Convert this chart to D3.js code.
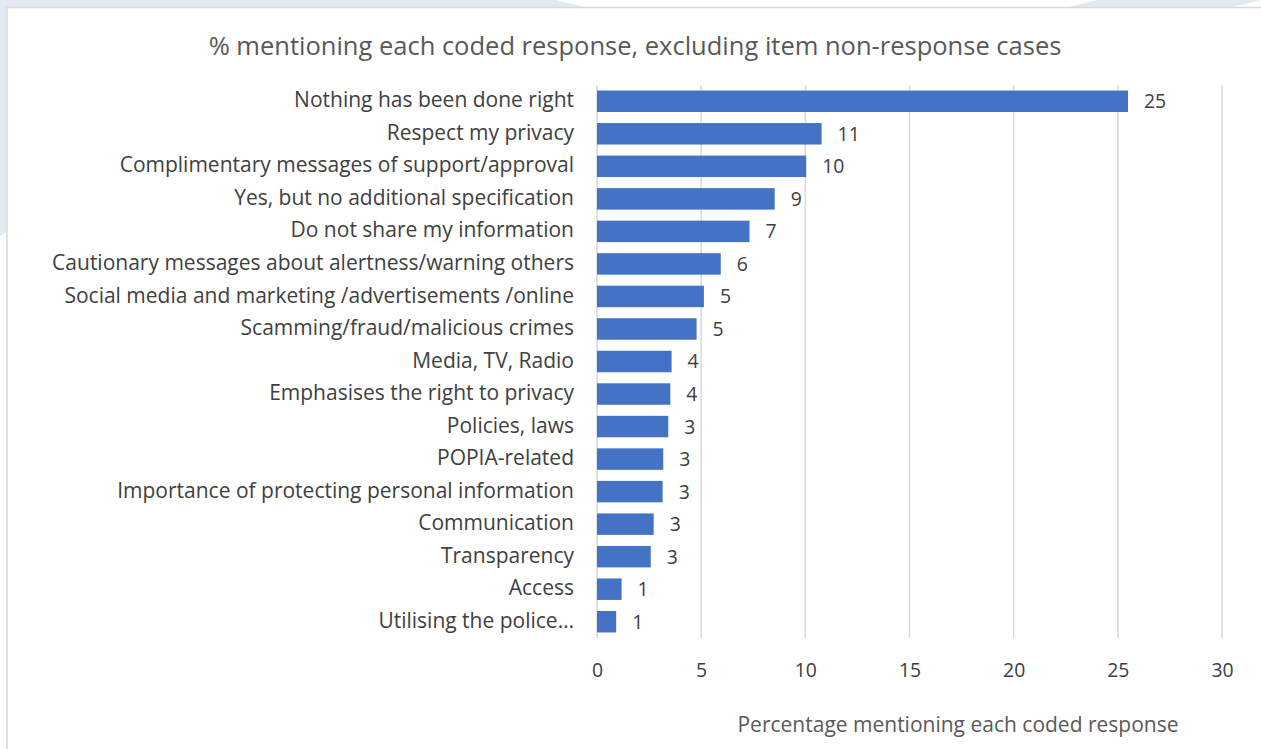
<!DOCTYPE html>
<html>
<head>
<meta charset="utf-8">
<script src="https://cdn.jsdelivr.net/npm/d3@7/dist/d3.min.js"></script>
<style>
  html, body { margin: 0; padding: 0; background: #ffffff; }
  svg { display: block; }
  text { font-family: "Open Sans", Lato, sans-serif; }
</style>
</head>
<body>
<svg id="chart" width="1261" height="749"></svg>
<script>
// Coded responses, in display order (top to bottom)
const categories = [
  "Nothing has been done right",
  "Respect my privacy",
  "Complimentary messages of support/approval",
  "Yes, but no additional specification",
  "Do not share my information",
  "Cautionary messages about alertness/warning others",
  "Social media and marketing /advertisements /online",
  "Scamming/fraud/malicious crimes",
  "Media, TV, Radio",
  "Emphasises the right to privacy",
  "Policies, laws",
  "POPIA-related",
  "Importance of protecting personal information",
  "Communication",
  "Transparency",
  "Access",
  "Utilising the police\u2026"
];

// Percentage mentioning each coded response
const percentages = [25.49, 10.78, 10.04, 8.53, 7.32, 5.94, 5.13, 4.78, 3.58, 3.52, 3.42, 3.18, 3.15, 2.72, 2.58, 1.18, 0.92];

// Axis ticks
const xTicks = [0, 5, 10, 15, 20, 25, 30];

const chartTitle = "% mentioning each coded response, excluding item non-response cases";
const xAxisTitle = "Percentage mentioning each coded response";

const data = categories.map((c, i) => ({ category: c, value: percentages[i] }));

const svg = d3.select("#chart");
const W = 1261, H = 749;
const FONT = "'Open Sans', Lato, sans-serif";
const TEXT_SIZE = 21;
const NUM_SIZE = 19.4;

// Slide backdrop around the chart frame
const backdrop = "#e1e9f1";
svg.append("rect").attr("width", W).attr("height", H).attr("fill", "#ffffff");
svg.append("path")
  .attr("d", "M0,0 L556,0 L584,7 L7,7 L7,232 L0,236 Z")
  .attr("fill", backdrop);
svg.append("path")
  .attr("d", "M1098,0 L1261,0 L1261,0 L1232,7 L1068,7 Z")
  .attr("fill", backdrop);

// Chart frame
svg.append("path")
  .attr("d", "M7,749 L7,7.5 L1261,7.5")
  .attr("fill", "none")
  .attr("stroke", "#d9d9d9")
  .attr("stroke-width", 1.5);

const x = d3.scaleLinear().domain([0, 30]).range([597, 1222]);
const y = d3.scaleBand()
  .domain(categories)
  .range([85, 638])
  .paddingInner(0.34)
  .paddingOuter(0.17);

// Vertical gridlines
svg.append("g")
  .selectAll("line")
  .data(xTicks)
  .join("line")
  .attr("x1", d => x(d)).attr("x2", d => x(d))
  .attr("y1", 85).attr("y2", 638)
  .attr("stroke", "#d9d9d9")
  .attr("stroke-width", 1.5);

// Bars
svg.append("g")
  .selectAll("rect")
  .data(data)
  .join("rect")
  .attr("x", x(0))
  .attr("y", d => y(d.category))
  .attr("width", d => x(d.value) - x(0))
  .attr("height", y.bandwidth())
  .attr("fill", "#4472c4");

// Value labels (rounded to whole percentages)
svg.append("g")
  .selectAll("text")
  .data(data)
  .join("text")
  .attr("x", d => x(d.value) + 16)
  .attr("y", d => y(d.category) + y.bandwidth() / 2)
  .attr("dy", "0.36em")
  .attr("font-size", NUM_SIZE)
  .attr("fill", "#404040")
  .text(d => d3.format(".0f")(d.value));

// Category axis
const yAxis = d3.axisLeft(y).tickSize(0).tickPadding(0);
const gy = svg.append("g").attr("transform", "translate(574,-1.5)").call(yAxis);
gy.select(".domain").remove();
gy.selectAll("text")
  .attr("font-size", TEXT_SIZE)
  .attr("font-family", FONT)
  .attr("fill", "#404040")
  .attr("dy", "0.36em");

// Value axis
const xAxis = d3.axisBottom(x).tickValues(xTicks).tickSize(0).tickPadding(0);
const gx = svg.append("g").attr("transform", "translate(0,670)").call(xAxis);
gx.select(".domain").remove();
gx.selectAll("text")
  .attr("font-size", NUM_SIZE)
  .attr("font-family", FONT)
  .attr("fill", "#404040")
  .attr("dy", "0.36em")
  .attr("y", 0);

// Titles
svg.append("text")
  .attr("x", 635).attr("y", 46)
  .attr("text-anchor", "middle")
  .attr("dy", "0.36em")
  .attr("font-size", 25.5)
  .attr("fill", "#595959")
  .text(chartTitle);

svg.append("text")
  .attr("x", 958).attr("y", 724)
  .attr("text-anchor", "middle")
  .attr("dy", "0.36em")
  .attr("font-size", TEXT_SIZE)
  .attr("fill", "#595959")
  .text(xAxisTitle);
</script>
</body>
</html>
